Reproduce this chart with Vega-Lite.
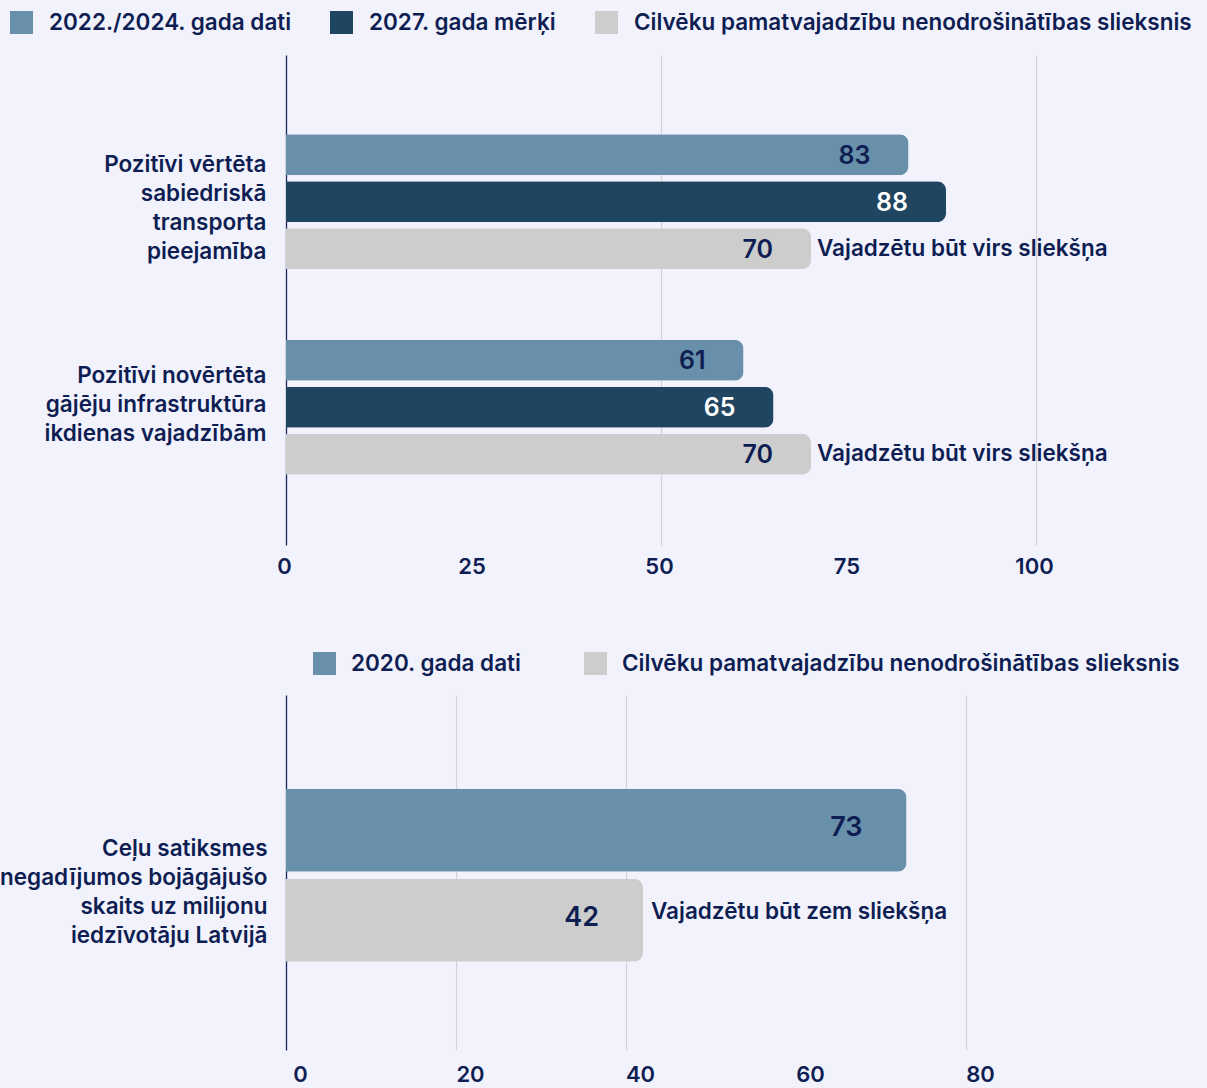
{
  "$schema": "https://vega.github.io/schema/vega-lite/v6.json",
  "background": "#f2f2fd",
  "padding": {"left": -5, "top": 11, "right": 20, "bottom": 6},
  "spacing": 75,
  "config": {
    "view": {"stroke": null},
    "font": "Inter",
    "legend": {"labelFont": "Inter", "labelFontSize": 22.5, "labelFontWeight": 600, "labelColor": "#0e1e52", "symbolType": "square", "symbolSize": 529, "symbolStrokeWidth": 0, "symbolOpacity": 1, "labelLimit": 800, "title": null}
  },
  "resolve": {"scale": {"color": "independent", "x": "independent", "y": "independent", "yOffset": "independent"}, "legend": {"color": "independent"}},
  "vconcat": [
    {
      "width": 750,
      "height": 490,
      "data": {"values": [
        {"category": "Pozitīvi vērtēta|sabiedriskā|transporta|pieejamība", "series": "2022./2024. gada dati", "value": 83, "note": ""},
        {"category": "Pozitīvi vērtēta|sabiedriskā|transporta|pieejamība", "series": "2027. gada mērķi", "value": 88, "note": ""},
        {"category": "Pozitīvi vērtēta|sabiedriskā|transporta|pieejamība", "series": "Cilvēku pamatvajadzību nenodrošinātības slieksnis", "value": 70, "note": "Vajadzētu būt virs sliekšņa"},
        {"category": "Pozitīvi novērtēta|gājēju infrastruktūra|ikdienas vajadzībām", "series": "2022./2024. gada dati", "value": 61, "note": ""},
        {"category": "Pozitīvi novērtēta|gājēju infrastruktūra|ikdienas vajadzībām", "series": "2027. gada mērķi", "value": 65, "note": ""},
        {"category": "Pozitīvi novērtēta|gājēju infrastruktūra|ikdienas vajadzībām", "series": "Cilvēku pamatvajadzību nenodrošinātības slieksnis", "value": 70, "note": "Vajadzētu būt virs sliekšņa"}
      ]},
      "encoding": {
        "y": {"field": "category", "type": "nominal", "sort": null,
          "scale": {"paddingInner": 0.343, "paddingOuter": 0.364, "align": 0.53},
          "axis": {"title": null, "ticks": false, "domain": true, "domainColor": "#1a2660", "domainWidth": 1.3, "grid": false,
            "labelPadding": 20, "labelFont": "Inter", "labelFontSize": 22.5, "labelFontWeight": 600, "labelColor": "#0e1e52",
            "labelExpr": "split(datum.label, '|')", "labelLineHeight": 29, "labelLimit": 400,
            "labelOffset": {"condition": {"test": "indexof(datum.value, 'sabiedrisk') >= 0", "value": -37}, "value": -31},
            "minExtent": 286}},
        "yOffset": {"field": "series", "type": "nominal",
          "scale": {"domain": ["2022./2024. gada dati", "2027. gada mērķi", "Cilvēku pamatvajadzību nenodrošinātības slieksnis"], "paddingInner": 0.128, "paddingOuter": 0}},
        "x": {"field": "value", "type": "quantitative", "scale": {"domain": [0, 100]},
          "axis": {"title": null, "values": [0, 25, 50, 75, 100], "domain": false, "ticks": false, "labelPadding": 11, "labelFlush": false, "labelOffset": -2,
            "labelFont": "Inter", "labelFontSize": 22, "labelFontWeight": 600, "labelColor": "#0e1e52",
            "grid": true, "gridWidth": 1.2,
            "gridColor": {"condition": {"test": "datum.value === 50 || datum.value === 100", "value": "#d2d2da"}, "value": "transparent"}}}
      },
      "layer": [
        {
          "mark": {"type": "bar", "cornerRadiusEnd": 9},
          "encoding": {
            "color": {"field": "series", "type": "nominal",
              "scale": {"domain": ["2022./2024. gada dati", "2027. gada mērķi", "Cilvēku pamatvajadzību nenodrošinātības slieksnis"], "range": ["#6890aa", "#1f4560", "#cccdcc"]},
              "legend": {"orient": "none", "direction": "horizontal", "legendX": -276, "legendY": -44, "labelOffset": 16, "columnPadding": 38}}
          }
        },
        {
          "mark": {"type": "text", "align": "right", "baseline": "middle", "dx": -38, "dy": 1, "font": "Inter", "fontSize": 25, "fontWeight": 600},
          "encoding": {
            "text": {"field": "value", "type": "quantitative"},
            "color": {"condition": {"test": "datum.series === '2027. gada mērķi'", "value": "#ffffff"}, "value": "#0e1e52"}
          }
        },
        {
          "mark": {"type": "text", "align": "left", "baseline": "middle", "dx": 6, "font": "Inter", "fontSize": 22.5, "fontWeight": 600, "color": "#0e1e52"},
          "encoding": {"text": {"field": "note", "type": "nominal"}}
        }
      ]
    },
    {
      "width": 850,
      "height": 355,
      "data": {"values": [
        {"category": "Ceļu satiksmes|negadījumos bojāgājušo|skaits uz milijonu|iedzīvotāju Latvijā", "series": "2020. gada dati", "value": 73, "note": ""},
        {"category": "Ceļu satiksmes|negadījumos bojāgājušo|skaits uz milijonu|iedzīvotāju Latvijā", "series": "Cilvēku pamatvajadzību nenodrošinātības slieksnis", "value": 42, "note": "Vajadzētu būt zem sliekšņa"}
      ]},
      "encoding": {
        "y": {"field": "category", "type": "nominal", "sort": null,
          "scale": {"paddingInner": 0, "paddingOuter": 0.526, "align": 0.515},
          "axis": {"title": null, "ticks": false, "domain": true, "domainColor": "#1a2660", "domainWidth": 1.3, "grid": false,
            "labelPadding": 19, "labelFont": "Inter", "labelFontSize": 22.5, "labelFontWeight": 600, "labelColor": "#0e1e52",
            "labelExpr": "split(datum.label, '|')", "labelLineHeight": 29, "labelLimit": 400, "labelOffset": -26, "minExtent": 291}},
        "yOffset": {"field": "series", "type": "nominal",
          "scale": {"domain": ["2020. gada dati", "Cilvēku pamatvajadzību nenodrošinātības slieksnis"], "paddingInner": 0.078, "paddingOuter": 0}},
        "x": {"field": "value", "type": "quantitative", "scale": {"domain": [0, 100]},
          "axis": {"title": null, "values": [0, 20, 40, 60, 80], "domain": false, "ticks": false, "labelPadding": 14, "labelFlush": false, "labelOffset": 14,
            "labelFont": "Inter", "labelFontSize": 22, "labelFontWeight": 600, "labelColor": "#0e1e52",
            "grid": true, "gridWidth": 1.2,
            "gridColor": {"condition": {"test": "datum.value === 20 || datum.value === 40 || datum.value === 80", "value": "#d2d2da"}, "value": "transparent"}}}
      },
      "layer": [
        {
          "mark": {"type": "bar", "cornerRadiusEnd": 9},
          "encoding": {
            "color": {"field": "series", "type": "nominal",
              "scale": {"domain": ["2020. gada dati", "Cilvēku pamatvajadzību nenodrošinātības slieksnis"], "range": ["#6890aa", "#cccdcc"]},
              "legend": {"orient": "none", "direction": "horizontal", "legendX": 27, "legendY": -43, "labelOffset": 15, "columnPadding": 62}}
          }
        },
        {
          "mark": {"type": "text", "align": "right", "baseline": "middle", "dx": -44, "dy": -2, "font": "Inter", "fontSize": 27, "fontWeight": 600, "color": "#0e1e52"},
          "encoding": {"text": {"field": "value", "type": "quantitative"}}
        },
        {
          "mark": {"type": "text", "align": "left", "baseline": "middle", "dx": 8, "dy": -8, "font": "Inter", "fontSize": 22.5, "fontWeight": 600, "color": "#0e1e52"},
          "encoding": {"text": {"field": "note", "type": "nominal"}}
        }
      ]
    }
  ]
}
